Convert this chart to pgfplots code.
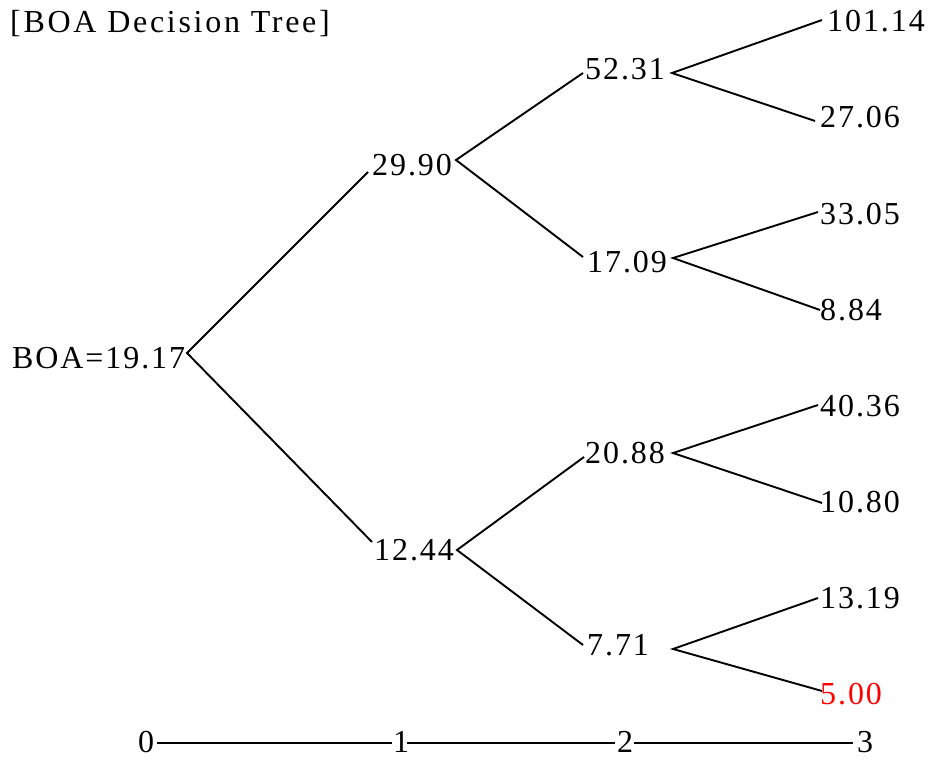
\documentclass[border=0pt]{standalone}
\usepackage{fontspec}
\setmainfont{Liberation Serif}[LetterSpace=6]
\newfontfamily\titlefont{Liberation Serif}[LetterSpace=8.5]
\usepackage{pgfplots}
\pgfplotsset{compat=1.18}
\usepackage{pgfplotstable}
\pgfplotstableread{
x y label
12 368 BOA=19.17
372 176 29.90
374 560 12.44
585 80 52.31
587 272 17.09
585 463 20.88
587 655 7.71
827 32 101.14
820 128 27.06
820 224 33.05
820 320 8.84
820 416 40.36
820 512 10.80
820 608 13.19
138 752 0
393 752 1
617 752 2
857 752 3
}\blacklabels
\pgfplotstableread{
x y label
820 704 5.00
}\redlabels
\begin{document}
\fontsize{32bp}{38bp}\selectfont
\begin{tikzpicture}
\begin{axis}[scale only axis, width=930bp, height=760bp,
  xmin=0, xmax=930, ymin=0, ymax=760, y dir=reverse,
  hide axis, clip=false,
  br/.style={black, solid, line width=1.9bp, mark=none}]
% tree branches
\addplot[br] coordinates {(368,172) (187,353) (372,542)};
\addplot[br] coordinates {(583,73) (456,160) (583,257)};
\addplot[br] coordinates {(584,457) (457,550) (583,645)};
\addplot[br] coordinates {(822,20) (672,73) (815,121)};
\addplot[br] coordinates {(818,212) (673,258) (820,310)};
\addplot[br] coordinates {(818,405) (673,453) (822,503)};
\addplot[br] coordinates {(818,598) (673,649) (822,691)};
% time axis
\addplot[br] coordinates {(157,743) (392,743)};
\addplot[br] coordinates {(407,743) (615,743)};
\addplot[br] coordinates {(634,743) (853,743)};
% labels
\addplot[draw=none, mark=none, nodes near coords, point meta=explicit symbolic,
  nodes near coords style={anchor=base west, inner sep=0pt, text=black}]
  table[meta=label] {\blacklabels};
\addplot[draw=none, mark=none, nodes near coords, point meta=explicit symbolic,
  nodes near coords style={anchor=base west, inner sep=0pt, text=red}]
  table[meta=label] {\redlabels};
\node[anchor=base west, inner sep=0pt, font=\titlefont] at (axis cs:10,33) {[BOA Decision Tree]};
\end{axis}
\pgfresetboundingbox
\path (current axis.south west) rectangle (current axis.north east);
\end{tikzpicture}
\end{document}
